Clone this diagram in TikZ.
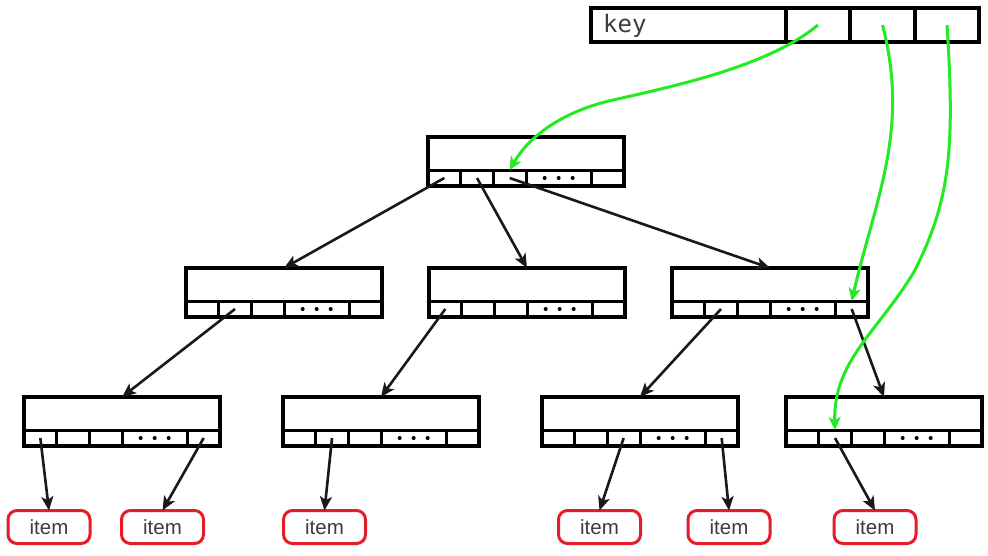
\documentclass[tikz,border=0pt]{standalone}
\usepackage{fontspec}
\setmainfont{Liberation Sans}
\newfontfamily\keyfont{DejaVu Sans Mono}
\usetikzlibrary{arrows.meta}
\definecolor{grn}{RGB}{35,235,35}
\definecolor{itemred}{RGB}{228,30,40}
\definecolor{txt}{RGB}{60,60,60}
\tikzset{
  btbox/.style={draw=black, line width=3.2pt, minimum width=196pt, minimum height=49pt, inner sep=0pt, outer sep=0pt},
  slotbox/.style={draw=black, line width=3pt, minimum height=16pt, inner sep=0pt, outer sep=0pt},
  keybox/.style={draw=black, line width=3.2pt, minimum height=34pt, inner sep=0pt, outer sep=0pt},
  itembox/.style={draw=itemred, line width=3pt, rounded corners=9pt, minimum width=82pt, minimum height=33pt, inner sep=0pt, outer sep=0pt, text=txt, font=\fontsize{20.5}{24}\selectfont},
  arr/.style={-{Stealth[length=14pt,width=12pt,inset=3.5pt]}, line width=2.6pt, black!90},
  garr/.style={-{Stealth[length=13pt,width=12pt,inset=3.5pt]}, line width=3pt, grn},
}
\newcommand\btnode[3]{%
  \node[btbox] (#1) at ({#2+98},{#3+24.5}) {};
  \node[slotbox, minimum width=32.67pt] (#1-1) at ({#2+16.33},{#3+41}) {};
  \node[slotbox, minimum width=32.67pt] (#1-2) at ({#2+49},{#3+41}) {};
  \node[slotbox, minimum width=32.67pt] (#1-3) at ({#2+81.67},{#3+41}) {};
  \node[slotbox, minimum width=65.33pt] (#1-4) at ({#2+130.67},{#3+41}) {};
  \node[slotbox, minimum width=32.67pt] (#1-5) at ({#2+179.67},{#3+41}) {};
  \foreach \dx in {-14,0,14} \fill ([xshift=\dx pt]#1-4.center) circle (2pt);
}
\begin{document}
\begin{tikzpicture}[x=1pt, y=-1pt]
\useasboundingbox[fill=white] (0,0) rectangle (988,555);

% key record
\node[keybox, minimum width=195pt] (key) at (688.5,25) {};
\node[keybox, minimum width=64pt] (k1) at (818,25) {};
\node[keybox, minimum width=65pt] (k2) at (882.5,25) {};
\node[keybox, minimum width=64pt] (k3) at (947,25) {};
\node[anchor=base west, inner sep=0pt, text=txt, font=\keyfont\fontsize{24}{28}\selectfont] (keylabel) at (603,32) {key};

% tree nodes
\btnode{t}{428}{137}
\btnode{la}{186}{268}
\btnode{lb}{429}{268}
\btnode{lc}{672}{268}
\btnode{da}{24}{397}
\btnode{db}{283}{397}
\btnode{dc}{542}{397}
\btnode{dd}{786}{397}

% items
\node[itembox] (i1) at (49,527) {item};
\node[itembox] (i2) at (162.5,527) {item};
\node[itembox] (i3) at (324.5,527) {item};
\node[itembox] (i4) at (599.5,527) {item};
\node[itembox] (i5) at (729,527) {item};
\node[itembox] (i6) at (875,527) {item};

% black pointers
\draw[arr] (t-1.center) -- (la.north);
\draw[arr] (t-2.center) -- (lb.north);
\draw[arr] (t-3.center) -- (lc.north);
\draw[arr] (la-2.center) -- (da.north);
\draw[arr] (lb-1.center) -- (db.north);
\draw[arr] (lc-2.center) -- (dc.north);
\draw[arr] (lc-5.center) -- (dd.north);
\draw[arr] (da-1.center) -- (i1.north);
\draw[arr] (da-5.center) -- (i2.north);
\draw[arr] (db-2.center) -- (i3.north);
\draw[arr] (dc-3.center) -- (i4.north);
\draw[arr] (dc-5.center) -- (i5.north);
\draw[arr] (dd-2.center) -- (i6.north);

% green pointers
\draw[garr] (k1.center) .. controls (770,65) and (680,85) .. (613,100)
                        .. controls (560,112) and (528,138) .. (t-3.north);
\draw[garr] (k2.center) .. controls (910,130) and (875,200) .. (lc-5.north);
\draw[garr] (k3.center) .. controls (955,150) and (950,200) .. (915,270)
                        .. controls (880,330) and (833,360) .. (dd-2.north);
\end{tikzpicture}
\end{document}
